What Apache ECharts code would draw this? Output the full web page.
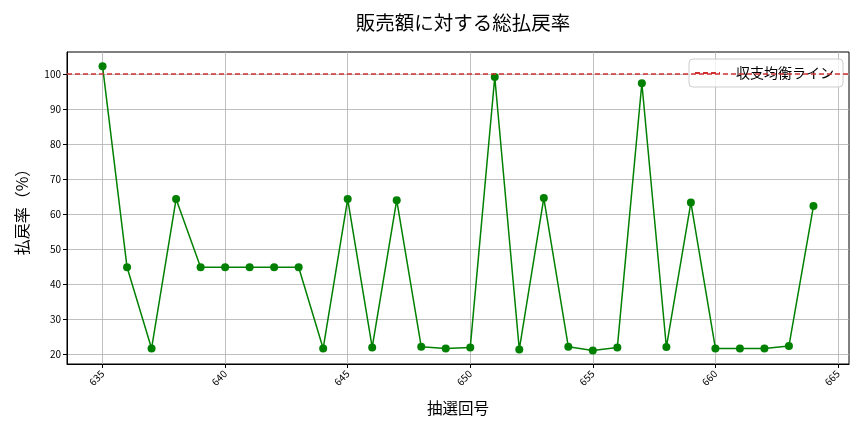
<!DOCTYPE html>
<html>
<head>
<meta charset="utf-8">
<script src="https://cdn.jsdelivr.net/npm/echarts@6/dist/echarts.min.js"></script>
<style>html,body{margin:0;padding:0;background:#fff}#c{width:864px;height:432px}</style>
</head>
<body>
<div id="c"></div>
<script>
const draws = [635,636,637,638,639,640,641,642,643,644,645,646,647,648,649,650,651,652,653,654,655,656,657,658,659,660,661,662,663,664];
const payoutRate = [102.3,44.8,21.6,64.3,44.8,44.8,44.8,44.8,44.8,21.6,64.3,21.9,64.0,22.1,21.6,21.9,99.2,21.3,64.6,22.1,21.0,21.9,97.4,22.0,63.3,21.6,21.6,21.6,22.3,62.3];
const xTicks = [635,640,645,650,655,660,665];
const yTicks = [20,30,40,50,60,70,80,90,100];
const breakEven = 100;
const titleText = '販売額に対する総払戻率';
const seriesName = '払戻率';
const lineName = '収支均衡ライン';

const jp = '"Noto Sans CJK JP", sans-serif';
const chart = echarts.init(document.getElementById('c'), null, {renderer: 'canvas'});
const xMin = 633.55, xMax = 665.45, yMin = 17.15, yMax = 106.35;

chart.setOption({
  animation: false,
  backgroundColor: '#fff',
  title: {
    text: titleText,
    left: 458, top: 8, textAlign: 'center',
    textStyle: {fontFamily: jp, fontSize: 19.5, fontWeight: 'normal', color: '#000'}
  },
  legend: {
    data: [{name: lineName}],
    right: 21, top: 59,
    itemWidth: 25, itemHeight: 10, itemGap: 8,
    padding: [7, 9, 7, 5],
    backgroundColor: 'rgba(255,255,255,0.8)',
    borderColor: '#cccccc', borderWidth: 1, borderRadius: 4,
    itemStyle: {color: 'transparent', borderWidth: 0, opacity: 0},
    textStyle: {fontFamily: jp, fontSize: 14, color: '#000', padding: [0, 0, 0, 11]}
  },
  grid: {
    left: 67, right: 15, top: 52, bottom: 68,
    show: true, borderColor: '#000', borderWidth: 1
  },
  xAxis: {
    type: 'value', min: xMin, max: xMax,
    name: '抽選回号', nameLocation: 'middle', nameGap: 36,
    nameTextStyle: {fontFamily: jp, fontSize: 15.5, color: '#000'},
    axisLine: {show: true, lineStyle: {color: '#000'}},
    axisTick: {show: true, length: 4, customValues: xTicks, lineStyle: {color: '#000'}},
    axisLabel: {customValues: xTicks, rotate: 45, fontSize: 10, color: '#000', margin: 8, fontFamily: jp},
    splitLine: {show: true, lineStyle: {color: '#b0b0b0', width: 0.8}}
  },
  yAxis: {
    type: 'value', min: yMin, max: yMax,
    name: '払戻率（%）', nameLocation: 'middle', nameGap: 37,
    nameTextStyle: {fontFamily: jp, fontSize: 16, color: '#000'},
    axisLine: {show: true, lineStyle: {color: '#000'}},
    axisTick: {show: true, length: 4, customValues: yTicks, lineStyle: {color: '#000'}},
    axisLabel: {customValues: yTicks, fontSize: 10, color: '#000', margin: 6, fontFamily: jp},
    splitLine: {show: true, lineStyle: {color: '#b0b0b0', width: 0.8}}
  },
  series: [
    {
      name: seriesName, type: 'line',
      data: draws.map((d, i) => [d, payoutRate[i]]),
      symbol: 'circle', symbolSize: 8,
      lineStyle: {color: '#008000', width: 1.5},
      itemStyle: {color: '#008000'},
      z: 3
    },
    {
      name: lineName, type: 'line', data: [],
      symbol: 'none',
      lineStyle: {color: '#d03030', width: 1.5, type: [5, 3]},
      itemStyle: {color: '#d03030'},
      markLine: {
        silent: true, symbol: 'none', label: {show: false},
        lineStyle: {color: '#d03030', width: 1.5, type: [5, 3]},
        data: [{yAxis: breakEven}]
      },
      z: 2
    }
  ]
});
</script>
</body>
</html>
